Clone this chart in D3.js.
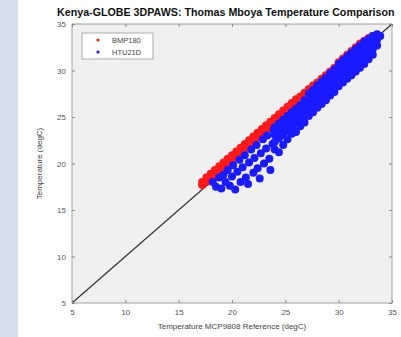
<!DOCTYPE html>
<html>
<head>
<meta charset="utf-8" />
<script src="https://cdn.jsdelivr.net/npm/d3@7"></script>
<style>
  body { margin: 0; background: #fff; }
  text { font-family: "Liberation Sans", Arial, sans-serif; }
</style>
</head>
<body>
<svg id="chart" width="401" height="337"></svg>
<script>

var title = "Kenya-GLOBE 3DPAWS: Thomas Mboya Temperature Comparison";
var xLabel = "Temperature MCP9808 Reference (degC)";
var yLabel = "Temperature (degC)";
var ticks = [5, 10, 15, 20, 25, 30, 35];
var seriesNames = ["BMP180", "HTU21D"];
var seriesColors = ["#ff1a1a", "#1a1aff"];

// BMP180 vs reference, [ref, sensor]
var bmp180 = [
  [17.2,17.7],[17.2,18.0],[17.6,18.0],[17.6,18.5],[18.0,18.4],[18.0,18.9],[18.4,18.8],[18.4,19.3],
  [18.8,19.2],[18.8,19.7],[19.2,19.6],[19.2,20.1],[19.6,20.0],[19.6,20.5],[20.0,20.4],[20.0,20.9],
  [20.4,20.8],[20.4,21.3],[20.8,21.2],[20.8,21.7],[21.2,21.6],[21.2,22.1],[21.6,22.0],[21.6,22.5],
  [22.0,22.4],[22.0,22.9],[22.4,22.8],[22.4,23.3],[22.8,23.2],[22.8,23.7],[23.2,23.6],[23.2,24.1],
  [23.6,24.0],[23.6,24.5],[24.0,24.4],[24.0,24.9],[24.4,24.8],[24.4,25.3],[24.8,25.2],[24.8,25.7],
  [25.2,25.6],[25.2,26.1],[25.6,26.0],[25.6,26.5],[26.0,26.4],[26.0,26.9],
  [26.4,27.2],[26.8,27.6],[27.2,28.0],[27.6,28.4],[28.0,28.7],[28.4,29.1],[28.8,29.5],[29.2,29.9],
  [29.6,30.3],[30.0,30.9],[30.4,31.3],[30.8,31.7],[31.2,32.1],[31.6,32.5],[32.0,32.9],[32.4,33.2],
  [32.8,33.5],[33.2,33.7]
];

// HTU21D vs reference, [ref, sensor]
var htu21d = [
  [18.2,18.0],[18.5,17.5],[18.8,18.5],[19.0,17.3],[19.2,18.8],[19.4,18.0],[19.6,19.3],[19.8,17.6],
  [20.0,18.6],[20.1,19.8],[20.3,17.2],[20.5,19.1],[20.7,20.4],[20.8,18.0],[21.0,19.6],[21.2,20.9],
  [21.3,18.5],[21.5,17.8],[21.6,20.1],[21.8,21.5],[22.0,19.0],[22.1,20.6],[22.3,22.0],[22.4,19.5],
  [22.6,18.4],[22.7,21.1],[22.9,22.6],[23.0,20.0],[23.2,21.6],[23.3,23.0],[23.5,20.5],[23.6,19.3],
  [23.8,22.1],[23.9,23.6],
  [24.0,23.9],[24.0,23.1],[24.0,22.3],[24.0,21.5],[24.4,24.3],[24.4,23.5],[24.4,22.7],[24.4,21.2],
  [24.8,24.7],[24.8,23.9],[24.8,23.1],[24.8,22.0],[25.2,25.1],[25.2,24.3],[25.2,23.5],[25.2,22.6],
  [25.6,25.5],[25.6,24.7],[25.6,23.9],[25.6,23.2],[26.0,25.9],[26.0,25.1],[26.0,24.3],[26.0,23.4],
  [26.4,26.3],[26.4,25.5],[26.4,24.7],[26.4,24.0],[26.8,26.8],[26.8,26.0],[26.8,25.2],[26.8,24.4],
  [27.2,27.5],[27.2,26.7],[27.2,25.9],[27.2,25.1],[27.6,27.9],[27.6,27.1],[27.6,26.3],[27.6,25.5],
  [28.0,28.4],[28.0,27.6],[28.0,26.8],[28.0,26.0],[28.4,28.8],[28.4,28.0],[28.4,27.2],[28.4,26.4],
  [28.8,29.2],[28.8,28.4],[28.8,27.6],[28.8,26.8],[29.2,29.7],[29.2,28.9],[29.2,28.1],[29.2,27.3],
  [29.6,30.1],[29.6,29.3],[29.6,28.5],[29.6,27.7],[30.0,30.7],[30.0,29.9],[30.0,29.1],[30.0,28.3],
  [30.4,31.1],[30.4,30.3],[30.4,29.5],[30.4,28.7],[30.8,31.5],[30.8,30.7],[30.8,29.9],[30.8,29.1],
  [31.2,31.9],[31.2,31.1],[31.2,30.3],[31.2,29.5],[31.6,32.3],[31.6,31.5],[31.6,30.7],[31.6,29.9],
  [32.0,32.7],[32.0,31.9],[32.0,31.1],[32.0,30.3],[32.4,33.1],[32.4,32.3],[32.4,31.5],[32.4,30.7],
  [32.8,33.4],[32.8,32.7],[32.8,31.9],[32.8,31.2],[33.2,33.7],[33.2,33.0],[33.2,32.3],[33.2,31.7],
  [33.6,33.9],[33.6,33.3],[33.6,32.7],[33.9,33.7]
];

var svg = d3.select("#chart");

// side strip of the page the chart was cut from
svg.append("rect").attr("x", 0).attr("y", 0).attr("width", 18).attr("height", 337)
  .attr("fill", "#d3dfeb");

var margin = { left: 72, right: 9, top: 24, bottom: 34 };
var width = 401 - margin.left - margin.right;
var height = 337 - margin.top - margin.bottom;

var x = d3.scaleLinear().domain([5, 35]).range([0, width]);
var y = d3.scaleLinear().domain([5, 35]).range([height, 0]);

var g = svg.append("g").attr("transform", "translate(" + margin.left + "," + margin.top + ")");

g.append("rect").attr("width", width).attr("height", height).attr("fill", "#f0f0f0");

// 1:1 line
g.append("line")
  .attr("x1", x(5)).attr("y1", y(5)).attr("x2", x(35)).attr("y2", y(35))
  .attr("stroke", "#333").attr("stroke-width", 1.2);

var series = [bmp180, htu21d];
series.forEach(function(pts, i) {
  g.append("g").selectAll("circle")
    .data(pts)
    .enter().append("circle")
    .attr("cx", function(d) { return x(d[0]); })
    .attr("cy", function(d) { return y(d[1]); })
    .attr("r", 4)
    .attr("fill", seriesColors[i]);
});

// axes, matlab style: inward ticks on all sides
var axisColor = "#8a8a8a";
function styleAxis(sel) {
  sel.select(".domain").remove();
  sel.selectAll(".tick line").attr("stroke", axisColor);
  sel.selectAll(".tick text").attr("fill", "#555").attr("font-size", 8);
}
g.append("g").attr("transform", "translate(0," + height + ")")
  .call(d3.axisBottom(x).tickValues(ticks).tickSizeInner(-3).tickPadding(6)).call(styleAxis);
g.append("g")
  .call(d3.axisLeft(y).tickValues(ticks).tickSizeInner(-3).tickPadding(6)).call(styleAxis);
g.append("g")
  .call(d3.axisTop(x).tickValues(ticks).tickSizeInner(-3).tickFormat("")).call(styleAxis);
g.append("g").attr("transform", "translate(" + width + ",0)")
  .call(d3.axisRight(y).tickValues(ticks).tickSizeInner(-3).tickFormat("")).call(styleAxis);

g.append("rect").attr("width", width).attr("height", height)
  .attr("fill", "none").attr("stroke", axisColor).attr("stroke-width", 0.8);

// legend
var lg = g.append("g").attr("transform", "translate(10,9)");
lg.append("rect").attr("width", 71).attr("height", 26)
  .attr("fill", "#fff").attr("stroke", "#999").attr("stroke-width", 0.8);
seriesNames.forEach(function(name, i) {
  lg.append("circle").attr("cx", 16).attr("cy", 7 + i * 12).attr("r", 1.6)
    .attr("fill", seriesColors[i]);
  lg.append("text").attr("x", 30).attr("y", 10 + i * 12)
    .attr("font-size", 7.5).attr("fill", "#444").text(name);
});

// titles
svg.append("text").attr("x", 57).attr("y", 16)
  .attr("font-size", 10.7).attr("font-weight", "bold").attr("fill", "#111").text(title);
svg.append("text").attr("x", margin.left + width / 2).attr("y", 329)
  .attr("text-anchor", "middle").attr("font-size", 8).attr("fill", "#444").text(xLabel);
svg.append("text")
  .attr("transform", "translate(42," + (margin.top + height / 2) + ") rotate(-90)")
  .attr("text-anchor", "middle").attr("font-size", 8).attr("fill", "#444").text(yLabel);

</script>
</body>
</html>
